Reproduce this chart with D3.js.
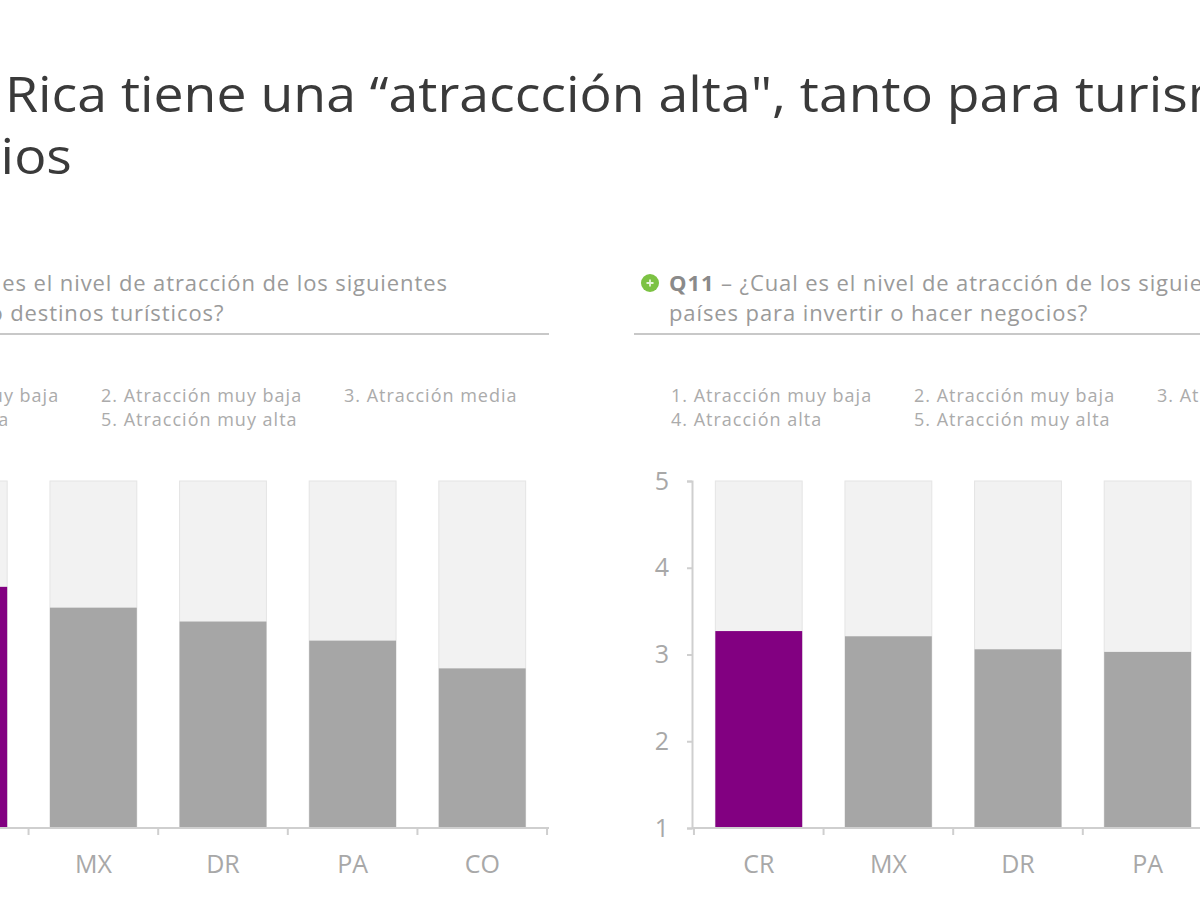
<!DOCTYPE html>
<html>
<head>
<meta charset="utf-8">
<script src="https://cdn.jsdelivr.net/npm/d3@7"></script>
<style>
  body { margin: 0; background: #fff; overflow: hidden; }
  svg { display: block; font-family: "Open Sans", sans-serif; }
</style>
</head>
<body>
<div id="chart"></div>
<script>
// Daten
const laender = ["CR", "MX", "DR", "PA", "CO"];
const turismo = [3.78, 3.54, 3.38, 3.16, 2.84];
const negocios = [3.27, 3.21, 3.06, 3.03, 2.9];
const yTicks = [1, 2, 3, 4, 5];
const legende = [
  "1. Atracción muy baja", "2. Atracción muy baja", "3. Atracción media",
  "4. Atracción alta", "5. Atracción muy alta"
];
const titel = ["Costa Rica tiene una “atraccción alta\", tanto para turismo como para", "negocios"];

const breite = 1200, hoehe = 900;

const svg = d3.select("#chart").append("svg")
  .attr("width", breite)
  .attr("height", hoehe);

// Titel
function createTitel() {
  const g = svg.append("g").attr("class", "titel");
  const zeilen = g.selectAll("text")
    .data(titel)
    .enter()
    .append("text")
    .attr("x", 0)
    .attr("y", (d, i) => 112 + i * 62)
    .style("font-size", "50px")
    .style("fill", "#3a3a3a")
    .text(d => d);

  // "Rica" soll bei x=5 anfangen, "turis" bei ~1188 enden
  const z1 = zeilen.node();
  const start = z1.getSubStringLength(0, 6);
  const idx = titel[0].indexOf("turis") + 5;
  const ende = z1.getSubStringLength(0, idx);
  const s = 1183 / (ende - start);
  g.attr("transform", `translate(${5 - start * s},0) scale(${s},1)`);
}

function createPanel(werte, opt) {
  const g = svg.append("g").attr("transform", `translate(${opt.x0},0)`);

  const x = d3.scaleBand().domain(laender).range([0, 652])
    .paddingInner(0.33).paddingOuter(0.18);
  const y = d3.scaleLinear().domain([1, 5]).range([828, 481]);
  const halb = x.step() * x.paddingInner() / 2;

  // Frage
  const frage = g.append("g").attr("class", "frage");
  frage.append("circle")
    .attr("cx", -42).attr("cy", 283).attr("r", 9)
    .style("fill", "#7cc243");
  frage.append("path")
    .attr("d", "M-45.5,283 h7 M-42,279.5 v7")
    .style("stroke", "#e8f5dc").style("stroke-width", 1.8);
  frage.selectAll("text")
    .data(opt.frage)
    .enter()
    .append("text")
    .attr("x", opt.textX)
    .attr("y", (d, i) => 291 + i * 30)
    .style("font-size", "22px")
    .style("letter-spacing", "0.9px")
    .style("fill", "#9a9a9a")
    .html((d, i) => i === 0 ? `<tspan style="font-weight:bold;fill:#8a8a8a">${opt.q}</tspan>${d}` : d);
  frage.append("line")
    .attr("x1", -58).attr("x2", 652)
    .attr("y1", 334).attr("y2", 334)
    .style("stroke", "#c8c8c8").style("stroke-width", 2);

  // Legende
  g.append("g").selectAll("text")
    .data(legende)
    .enter()
    .append("text")
    .attr("x", (d, i) => opt.legX + (i % 3) * 243)
    .attr("y", (d, i) => 402 + Math.floor(i / 3) * 24)
    .style("font-size", "18px")
    .style("letter-spacing", "1px")
    .style("fill", "#ababab")
    .text(d => d);

  // Hintergrund-Balken
  g.selectAll(".bg")
    .data(laender)
    .enter()
    .append("rect")
    .attr("x", d => x(d))
    .attr("width", x.bandwidth())
    .attr("y", y(5))
    .attr("height", y(1) - y(5))
    .style("fill", "#f2f2f2")
    .style("stroke", "#e4e4e4");

  // Werte-Balken
  g.selectAll(".wert")
    .data(laender)
    .enter()
    .append("rect")
    .attr("x", d => x(d))
    .attr("width", x.bandwidth())
    .attr("y", (d, i) => y(werte[i]))
    .attr("height", (d, i) => y(1) - y(werte[i]))
    .style("fill", d => d === "CR" ? "#820081" : "#a6a6a6");

  // y-Achse
  const yAxisG = g.append("g").call(d3.axisLeft(y).tickValues(yTicks).tickSize(5).tickPadding(18).tickFormat(d3.format("d")));
  yAxisG.selectAll(".domain").style("stroke", "#cfcfcf").style("stroke-width", 2);
  yAxisG.selectAll("line").style("stroke", "#cfcfcf").style("stroke-width", 2);
  yAxisG.selectAll("text").style("font-size", "25px").style("fill", "#a8a8a8").style("font-family", "Open Sans");

  // x-Achse
  const xAxisG = g.append("g").attr("transform", `translate(0,${y(1)})`)
    .call(d3.axisBottom(x).tickSize(0).tickPadding(27));
  xAxisG.selectAll(".domain").remove();
  xAxisG.selectAll("text").style("font-size", "25px").style("fill", "#a8a8a8").style("font-family", "Open Sans");

  const grenzen = laender.map(d => x(d) - halb).concat([x(laender[laender.length - 1]) + x.bandwidth() + halb]);
  xAxisG.append("line")
    .attr("x1", 0).attr("x2", 652)
    .style("stroke", "#cfcfcf").style("stroke-width", 2);
  xAxisG.selectAll(".grenze")
    .data(grenzen)
    .enter()
    .append("line")
    .attr("x1", d => d).attr("x2", d => d)
    .attr("y1", 0).attr("y2", 7)
    .style("stroke", "#cfcfcf").style("stroke-width", 2);
}

createTitel();

createPanel(turismo, {
  x0: -103,
  q: "Q10",
  frage: [" – ¿Cual es el nivel de atracción de los siguientes", "países como destinos turísticos?"],
  textX: -31, legX: -39
});

createPanel(negocios, {
  x0: 692,
  q: "Q11",
  frage: [" – ¿Cual es el nivel de atracción de los siguientes", "países para invertir o hacer negocios?"],
  textX: -23, legX: -21
});
</script>
</body>
</html>
